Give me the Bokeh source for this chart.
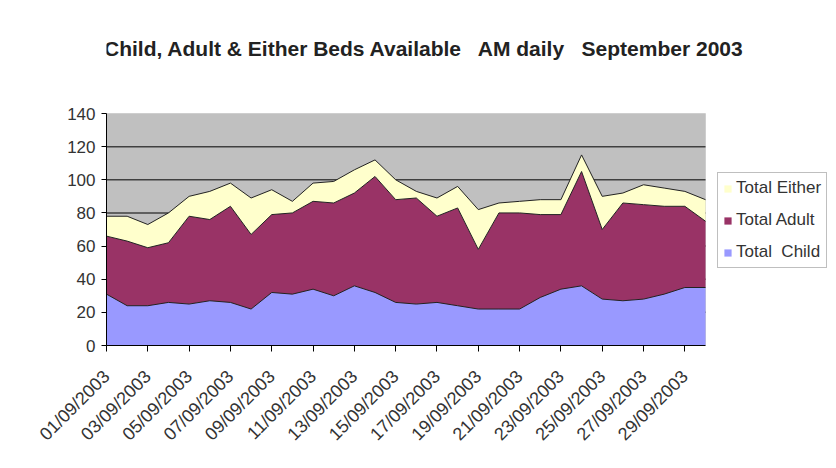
from bokeh.plotting import figure
from bokeh.models import (ColumnDataSource, Range1d, FixedTicker, Legend,
                          LegendItem, Label, BoxAnnotation)
from bokeh.transform import stack
from bokeh.embed import file_html
from bokeh.resources import INLINE

# ---- data -------------------------------------------------------------
days = list(range(1, 31))
tick_days = [1, 3, 5, 7, 9, 11, 13, 15, 17, 19, 21, 23, 25, 27, 29]
tick_labels = ["01/09/2003", "03/09/2003", "05/09/2003", "07/09/2003",
               "09/09/2003", "11/09/2003", "13/09/2003", "15/09/2003",
               "17/09/2003", "19/09/2003", "21/09/2003", "23/09/2003",
               "25/09/2003", "27/09/2003", "29/09/2003"]
y_ticks = [0, 20, 40, 60, 80, 100, 120, 140]

total_child = [31, 24, 24, 26, 25, 27, 26, 22, 32, 31, 34, 30, 36, 32, 26,
               25, 26, 24, 22, 22, 22, 29, 34, 36, 28, 27, 28, 31, 35, 35]
total_adult = [35, 39, 35, 36, 53, 49, 58, 45, 47, 49, 53, 56, 56, 70, 62,
               64, 52, 59, 36, 58, 58, 50, 45, 69, 42, 59, 57, 53, 49, 40]
total_either = [12, 15, 14, 18, 12, 17, 14, 22, 15, 7, 11, 13, 14, 10, 12,
                4, 11, 13, 24, 6, 7, 9, 9, 10, 20, 6, 12, 11, 9, 13]

# (non-breaking spaces keep the wide gaps visible in SVG text)
series_names = ["Total \u00a0Child", "Total Adult", "Total Either"]
series_keys = ["child", "adult", "either"]
series_colors = ["#9999FF", "#993366", "#FFFFCC"]

title_text = ("Child, Adult & Either Beds Available \u00a0 AM daily "
              "\u00a0 September 2003")

# ---- layout constants (pixels) ----------------------------------------
W, H = 828, 460
LEFT, BOTTOM = 106, 115
PLOT_W, PLOT_H = 599, 232          # size of the grey plot area
FONT = "Liberation Sans"

frame_w = W - LEFT
frame_h = H - BOTTOM
x0, x1 = days[0], days[-1]
y0, y1 = y_ticks[0], y_ticks[-1]
x_end = x0 + (x1 - x0) * frame_w / PLOT_W
y_end = y0 + (y1 - y0) * frame_h / PLOT_H

src = ColumnDataSource(dict(day=days, child=total_child,
                            adult=total_adult, either=total_either))

p = figure(width=W, height=H, x_range=Range1d(x0, x_end),
           y_range=Range1d(y0, y_end), output_backend="svg",
           toolbar_location=None, title=None, min_border_left=LEFT,
           min_border_right=0, min_border_top=0, min_border_bottom=BOTTOM)
p.background_fill_color = "white"
p.border_fill_color = "white"
p.outline_line_color = None
p.xgrid.visible = False
p.ygrid.visible = False

# grey plot area + gridlines
p.add_layout(BoxAnnotation(left=x0, right=x1, bottom=y0, top=y1,
                           fill_color="#C0C0C0", fill_alpha=1,
                           line_color="#A8A8A8", line_width=1,
                           level="underlay"))
p.segment(x0=[x0] * (len(y_ticks) - 2), x1=[x1] * (len(y_ticks) - 2),
          y0=y_ticks[1:-1], y1=y_ticks[1:-1], line_color="#404040",
          line_width=1.5)

# stacked areas
areas = p.varea_stack(stackers=series_keys, x="day", color=series_colors,
                      source=src)
for i in range(3):
    p.line(x="day", y=stack(*series_keys[:i + 1]), source=src,
           line_color="#222222", line_width=1)

# axes
p.xaxis.bounds = (x0, x1)
p.xaxis.ticker = FixedTicker(ticks=tick_days)
p.xaxis.major_label_overrides = dict(zip(tick_days, tick_labels))
p.xaxis.major_label_orientation = 0.785
p.xaxis.major_label_standoff = 22
p.xaxis.major_label_text_font = FONT
p.xaxis.major_label_text_font_size = "18px"
p.xaxis.major_label_text_color = "#333333"
p.xaxis.minor_tick_line_color = None
p.xaxis.major_tick_in = 0
p.xaxis.major_tick_out = 6
p.xaxis.axis_line_color = "black"
p.xaxis.major_tick_line_color = "black"

p.yaxis.bounds = (y0, y1)
p.yaxis.ticker = FixedTicker(ticks=y_ticks)
p.yaxis.major_label_standoff = 6
p.yaxis.major_label_text_font = FONT
p.yaxis.major_label_text_font_size = "17px"
p.yaxis.major_label_text_color = "#333333"
p.yaxis.minor_tick_line_color = None
p.yaxis.major_tick_in = 0
p.yaxis.major_tick_out = 5
p.yaxis.axis_line_color = "black"
p.yaxis.major_tick_line_color = "black"

# legend
items = [LegendItem(label=n, renderers=[r])
         for n, r in zip(series_names, areas)][::-1]
legend = Legend(items=items, location=(611, 77),
                border_line_color="#808080", border_line_width=1,
                background_fill_color="white", label_text_font=FONT,
                label_text_font_size="17px", label_text_color="#333333",
                glyph_width=9, glyph_height=9, label_height=20,
                spacing=12, padding=5, margin=0, label_standoff=4)
p.add_layout(legend)

# title
p.add_layout(Label(x=318, y=frame_h - 48, x_units="screen", y_units="screen",
                   text=title_text, text_align="center",
                   text_baseline="middle", text_font=FONT,
                   text_font_size="21px", text_font_style="bold",
                   text_color="#222222"))

open("out.html", "w").write(file_html(p, INLINE))
